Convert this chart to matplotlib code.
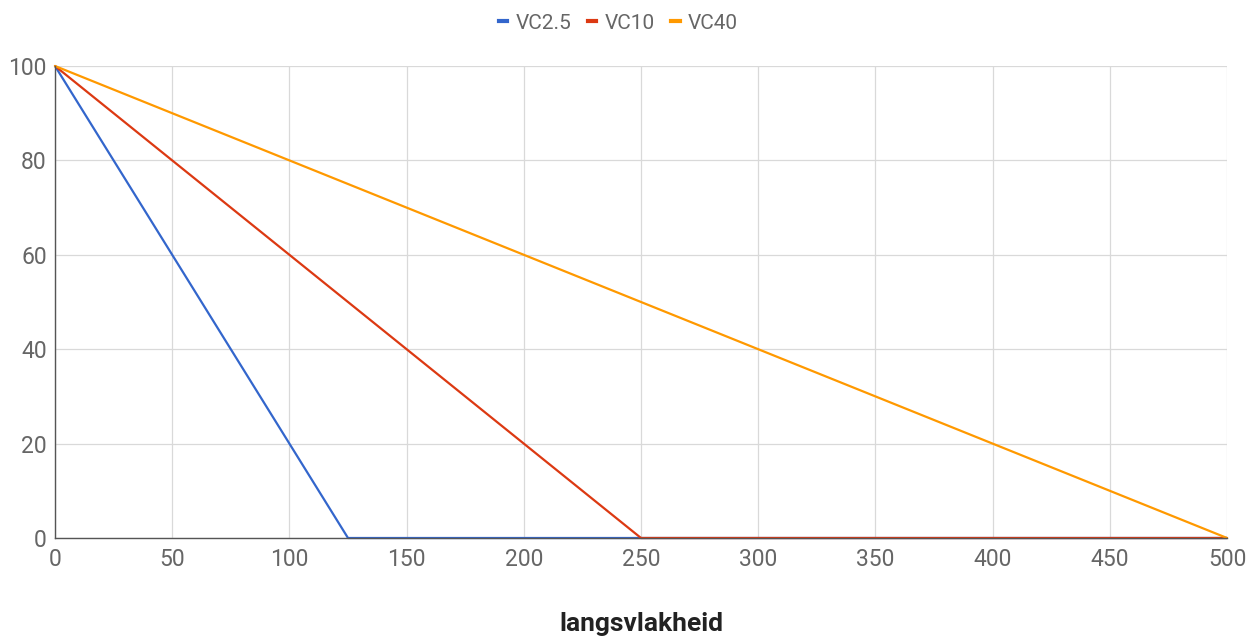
import matplotlib
matplotlib.use("Agg")
import matplotlib.pyplot as plt
from matplotlib.lines import Line2D

plt.rcParams['font.family'] = ['Roboto', 'DejaVu Sans']

x = [0, 125, 250, 500]
vc25 = [100, 0, 0, 0]
vc10 = [100, 50, 0, 0]
vc40 = [100, 75, 50, 0]
series = [("VC2.5", vc25, "#3366CC"), ("VC10", vc10, "#DC3912"), ("VC40", vc40, "#FF9900")]
xticks = [0, 50, 100, 150, 200, 250, 300, 350, 400, 450, 500]
yticks = [0, 20, 40, 60, 80, 100]

fig = plt.figure(figsize=(12.57, 6.38), dpi=100)
ax = fig.add_axes([55/1257, 1-538/638, (1227-55)/1257, (538-66)/638])

for name, vals, col in series:
    ax.plot(x, vals, color=col, lw=1.6, label=name, solid_capstyle='round', clip_on=False)

ax.set_xlim(0, 500)
ax.set_ylim(0, 100)
ax.set_xticks(xticks)
ax.set_yticks(yticks)
ax.grid(True, color='#d9d9d9', lw=0.9)
ax.set_axisbelow(True)
for s in ['top', 'right']:
    ax.spines[s].set_visible(False)
for s in ['left', 'bottom']:
    ax.spines[s].set_color('#555555')
    ax.spines[s].set_linewidth(1.0)
ax.tick_params(length=0, labelsize=16.5, labelcolor='#666666', pad=7)
ax.tick_params(axis='y', pad=6)
ax.set_xlabel('langsvlakheid', fontsize=19, fontweight='bold', color='#222222', labelpad=30)

handles = [Line2D([0], [0], color=c, lw=3) for _, _, c in series]
fig.legend(handles, [n for n, _, _ in series], loc='upper center', bbox_to_anchor=(0.492, 1.008),
           ncol=3, frameon=False, fontsize=15, handlelength=0.4, handletextpad=0.4,
           columnspacing=0.8, labelcolor='#666666')

fig.savefig('out.png', dpi=100)
